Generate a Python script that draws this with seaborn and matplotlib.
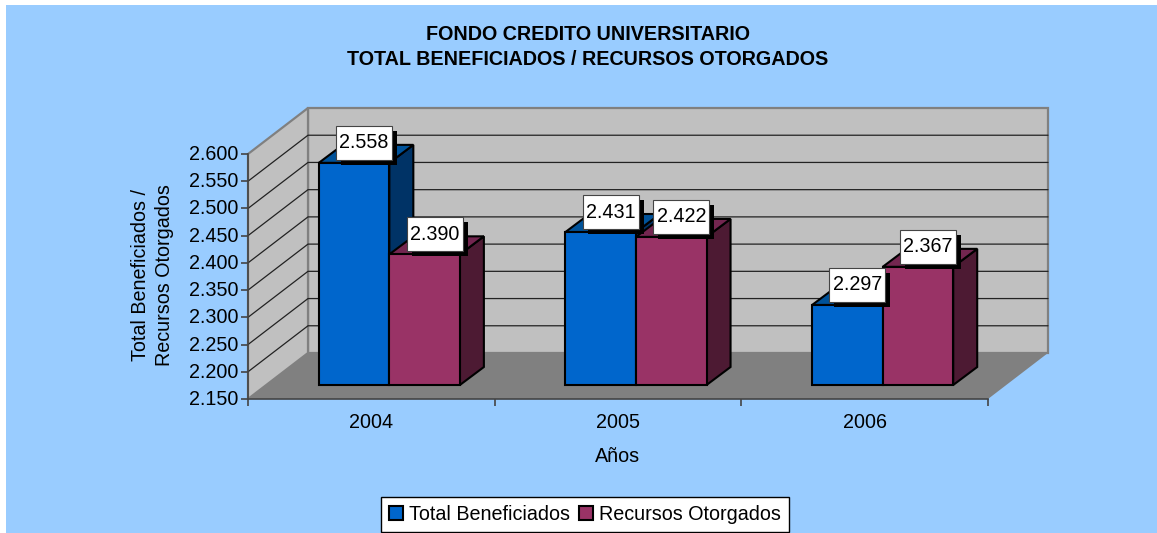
import matplotlib
matplotlib.use("Agg")
import matplotlib.pyplot as plt
import matplotlib.transforms as mtrans
import pandas as pd
import seaborn as sns
from matplotlib.patches import Polygon, Rectangle

years = ["2004", "2005", "2006"]
beneficiados = [2558, 2431, 2297]
recursos = [2390, 2422, 2367]
series_names = ["Total Beneficiados", "Recursos Otorgados"]
y_ticks = [2150, 2200, 2250, 2300, 2350, 2400, 2450, 2500, 2550, 2600]

W, H = 1157, 533
BG = "#99CCFF"
WALL = "#C0C0C0"
FLOOR = "#808080"
FRONT = ["#0066CC", "#993366"]
SIDE = ["#003366", "#4D1A33"]
TOP = ["#005299", "#732650"]
FS = 14.2

# plot box of the front plane, in pixels from the top left
LEFT, RIGHT, BASE, CEIL = 248, 988, 399, 154
# depth of the whole 3d box and of a single bar
DX, DY = 60, 46
BAR_DX, BAR_DY = 24, 18
# bars stand a little behind the front plane
SHIFT_X, SHIFT_Y = 18, 14


def make_axes(l, r, b, t, **kw):
    return fig.add_axes([l / W, 1 - b / H, (r - l) / W, (b - t) / H], **kw)


def y_px(v):
    return BASE - (v - y_ticks[0]) / (y_ticks[-1] - y_ticks[0]) * (BASE - CEIL)


sns.set_theme(style="white")
plt.rcParams["font.family"] = ["Liberation Sans", "DejaVu Sans"]

df = pd.DataFrame({
    "year": years * 2,
    "value": beneficiados + recursos,
    "serie": [series_names[0]] * 3 + [series_names[1]] * 3,
})

fig = plt.figure(figsize=(W / 100, H / 100), dpi=100, facecolor="white")

# pixel axes for walls and the side faces of the bars
bg = make_axes(0, W, H, 0, zorder=0)
bg.set_xlim(0, W)
bg.set_ylim(H, 0)
bg.axis("off")

bg.add_patch(Rectangle((6, 5), W, H, fc=BG, ec="none", zorder=0))
bg.add_patch(Polygon([(LEFT, BASE), (RIGHT, BASE), (RIGHT + DX, BASE - DY), (LEFT + DX, BASE - DY)], fc=FLOOR, ec="none"))
bg.add_patch(Polygon([(LEFT + DX, BASE - DY), (RIGHT + DX, BASE - DY), (RIGHT + DX, CEIL - DY), (LEFT + DX, CEIL - DY)],
                     fc=WALL, ec=FLOOR, lw=1.6))
bg.add_patch(Polygon([(LEFT, BASE), (LEFT + DX, BASE - DY), (LEFT + DX, CEIL - DY), (LEFT, CEIL)], fc=WALL, ec=FLOOR, lw=1.6))
for v in y_ticks[1:-1]:
    y = y_px(v)
    bg.plot([LEFT, LEFT + DX, RIGHT + DX], [y, y - DY, y - DY], color="#222222", lw=0.9, zorder=1.5)

# front axes, only carries the ticks and labels
ax = make_axes(LEFT, RIGHT, BASE, CEIL, zorder=1)
ax.patch.set_alpha(0)
ax.set_xlim(-0.5, 2.5)
ax.set_ylim(y_ticks[0], y_ticks[-1])
ax.set_yticks(y_ticks)
ax.set_yticklabels([f"{v:,}".replace(",", ".") for v in y_ticks])
ax.set_xticks(range(3))
ax.set_xticklabels(years)
ax.set_xticks([-0.5, 0.5, 1.5, 2.5], minor=True)
ax.tick_params(axis="y", length=5, width=1.2, color="#444444", labelsize=FS, pad=2, left=True, labelcolor="black")
ax.tick_params(axis="x", which="major", length=0, labelsize=FS, pad=10, labelcolor="black")
ax.tick_params(axis="x", which="minor", length=5, width=1.2, color="#444444", bottom=True)
# the reference prints the tick labels slightly above their ticks
nudge = mtrans.ScaledTranslation(0, 1.5 / 100, fig.dpi_scale_trans)
for lab in ax.get_yticklabels():
    lab.set_transform(lab.get_transform() + nudge)
for s in ["top", "right"]:
    ax.spines[s].set_visible(False)
for s in ["left", "bottom"]:
    ax.spines[s].set_color("#444444")
    ax.spines[s].set_linewidth(1.2)
fig.text(618 / W, 1 - 456.5 / H, "Años", ha="center", va="center", fontsize=FS, color="black")
fig.text(152.5 / W, 1 - 275 / H, "Total Beneficiados /\nRecursos Otorgados", rotation=90, ha="center", va="center",
         fontsize=FS, linespacing=1.38, color="black")
fig.text(588 / W, 1 - 47 / H, "FONDO CREDITO UNIVERSITARIO\nTOTAL BENEFICIADOS / RECURSOS OTORGADOS", ha="center",
         va="center", fontsize=FS, fontweight="bold", linespacing=1.4, color="black")

# the bars themselves, on a copy of the plot box moved back by the bar offset
bar_ax = make_axes(LEFT + SHIFT_X, RIGHT + SHIFT_X, BASE - SHIFT_Y, CEIL - SHIFT_Y, zorder=2)
bar_ax.patch.set_alpha(0)
sns.barplot(data=df, x="year", y="value", hue="serie", palette=FRONT, width=0.572, gap=0, saturation=1, dodge=True,
            edgecolor="black", linewidth=1.5, ax=bar_ax, legend=True)
bar_ax.set_xlim(-0.5, 2.5)
bar_ax.set_ylim(y_ticks[0], y_ticks[-1])
bar_ax.axis("off")

handles, labels = bar_ax.get_legend_handles_labels()
bar_ax.get_legend().remove()
fig.legend(handles, labels, loc="center", bbox_to_anchor=(585 / W, 1 - 514.5 / H), ncol=2, frameon=True, fancybox=False,
           framealpha=1, facecolor="white", edgecolor="black", fontsize=FS, labelcolor="black", handlelength=0.7,
           handleheight=0.7, handletextpad=0.3, columnspacing=0.5, borderpad=0.4, borderaxespad=0)

# pixel axes for the value labels
top = make_axes(0, W, H, 0, zorder=3)
top.set_xlim(0, W)
top.set_ylim(H, 0)
top.axis("off")
top.patch.set_alpha(0)

bars = [p for p in bar_ax.patches if p.get_height() > 0][:6]
for i, bar in enumerate(bars):
    s = i // 3
    value = bar.get_height()
    # axis does not start at zero, so start the rectangle at the floor
    bar.set_y(y_ticks[0])
    bar.set_height(value - y_ticks[0])
    bar.set_clip_on(False)
    (x0, y0), (x1, y1) = bar_ax.transData.transform([(bar.get_x(), y_ticks[0]), (bar.get_x() + bar.get_width(), value)])
    y0, y1 = H - y0, H - y1
    # side and top faces follow from the front face
    bg.add_patch(Polygon([(x1, y0), (x1 + BAR_DX, y0 - BAR_DY), (x1 + BAR_DX, y1 - BAR_DY), (x1, y1)],
                         fc=SIDE[s], ec="black", lw=1.5, zorder=2 + i % 3 + s * 0.1))
    bg.add_patch(Polygon([(x0, y1), (x1, y1), (x1 + BAR_DX, y1 - BAR_DY), (x0 + BAR_DX, y1 - BAR_DY)],
                         fc=TOP[s], ec="black", lw=1.5, zorder=2 + i % 3 + s * 0.1))
    cx, cy = (x0 + x1) / 2 + 10, y1 - 20
    top.add_patch(Rectangle((cx - 28 + 5, cy - 17 + 5), 56, 34, fc="black", ec="none"))
    top.add_patch(Rectangle((cx - 28, cy - 17), 56, 34, fc="white", ec="#444444", lw=0.8))
    top.text(cx, cy, f"{value:,.0f}".replace(",", "."), ha="center", va="center", fontsize=FS, color="black")

fig.savefig("out.png", dpi=100, facecolor=fig.get_facecolor())
